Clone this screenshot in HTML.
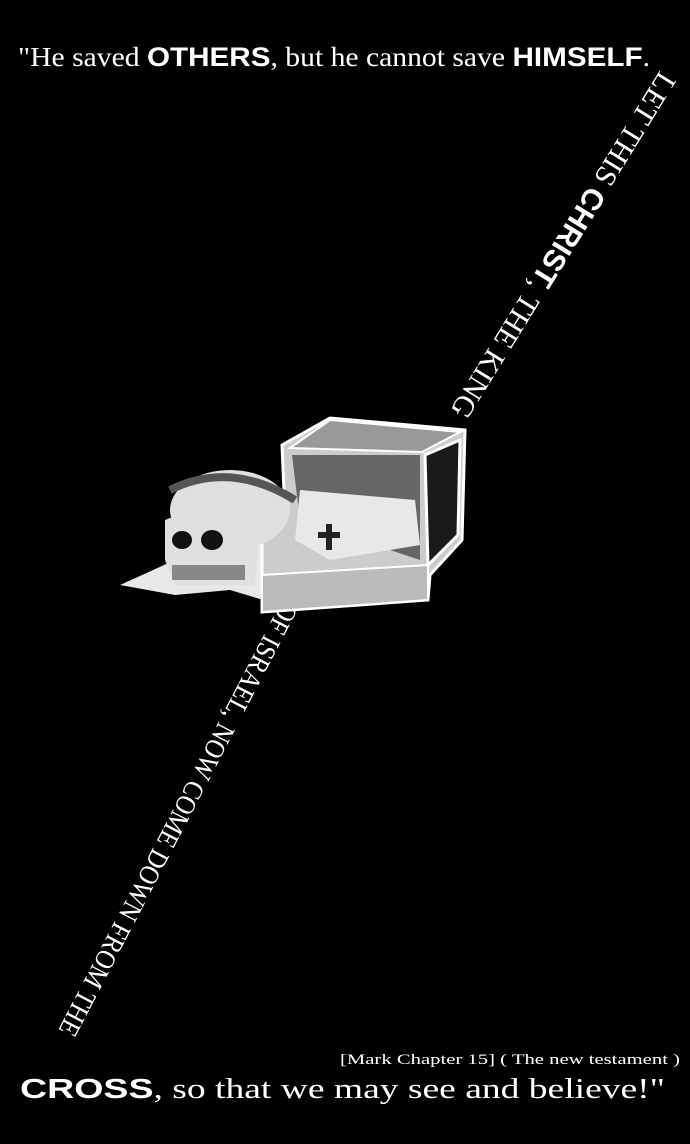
<!DOCTYPE html>
<html><head><meta charset="utf-8"><style>
html,body{margin:0;padding:0;background:#000;}
body{width:690px;height:1144px;overflow:hidden;position:relative;}
svg{position:absolute;left:0;top:0;}
</style></head><body>
<svg width="690" height="1144" viewBox="0 0 690 1144" xmlns="http://www.w3.org/2000/svg">
<rect width="690" height="1144" fill="#000"/>
<g font-family="Liberation Serif, serif" fill="#fff">
<text x="18" y="66" font-size="27" textLength="632" lengthAdjust="spacingAndGlyphs">"He saved <tspan font-weight="bold" font-family="Liberation Sans, sans-serif">OTHERS</tspan>, but he cannot save <tspan font-weight="bold" font-family="Liberation Sans, sans-serif">HIMSELF</tspan>.</text>
<text transform="translate(660,70) rotate(121.7)" font-size="30" textLength="400" lengthAdjust="spacingAndGlyphs">LET THIS <tspan font-weight="bold" font-family="Liberation Sans, sans-serif">CHRIST</tspan>, THE KING</text>
<text transform="translate(282,600) rotate(117.5)" font-size="28" textLength="485" lengthAdjust="spacingAndGlyphs">OF ISRAEL, NOW COME DOWN FROM THE</text>
<text x="340" y="1064" font-size="15" textLength="340" lengthAdjust="spacingAndGlyphs">[Mark Chapter 15] ( The new testament )</text>
<text x="20" y="1098" font-size="28" textLength="645" lengthAdjust="spacingAndGlyphs"><tspan font-weight="bold" font-family="Liberation Sans, sans-serif">CROSS</tspan>, so that we may see and believe!"</text>
</g>
<!-- cloth -->
<path d="M120,585 L175,560 L200,520 L260,500 L330,490 L410,505 L425,545 L400,580 L330,590 L280,605 L230,590 L175,595 Z" fill="#e8e8e8"/>
<!-- box -->
<path d="M282,445 L330,418 L465,430 L462,540 L430,575 L428,600 L262,612 L262,520 L285,515 Z" fill="#ccc" stroke="#fff" stroke-width="3"/>
<path d="M292,455 L420,455 L420,560 L300,520 Z" fill="#666"/>
<path d="M425,455 L460,440 L458,535 L428,565 Z" fill="#1a1a1a" stroke="#fff" stroke-width="3"/>
<path d="M330,420 L460,432 L422,452 L290,448 Z" fill="#999" stroke="#fff" stroke-width="2"/>
<path d="M300,490 L415,500 L420,545 L330,560 L295,540 Z" fill="#e8e8e8"/>
<path d="M262,575 L428,565 L428,600 L262,612 Z" fill="#bbb" stroke="#fff" stroke-width="2"/>
<!-- skull -->
<ellipse cx="230" cy="510" rx="60" ry="40" fill="#e0e0e0"/>
<path d="M165,520 L190,510 L260,520 L255,585 L175,585 L165,560 Z" fill="#e0e0e0"/>
<ellipse cx="182" cy="540" rx="10" ry="9" fill="#111"/>
<ellipse cx="212" cy="540" rx="11" ry="10" fill="#111"/>
<path d="M172,565 L245,565 L245,580 L172,580 Z" fill="#888"/>
<path d="M170,490 Q230,460 295,500" stroke="#555" stroke-width="8" fill="none"/>
<path d="M318,532 l8,0 l0,-8 l6,0 l0,8 l8,0 l0,6 l-8,0 l0,12 l-6,0 l0,-12 l-8,0 Z" fill="#222"/>
</svg>
</body></html>
